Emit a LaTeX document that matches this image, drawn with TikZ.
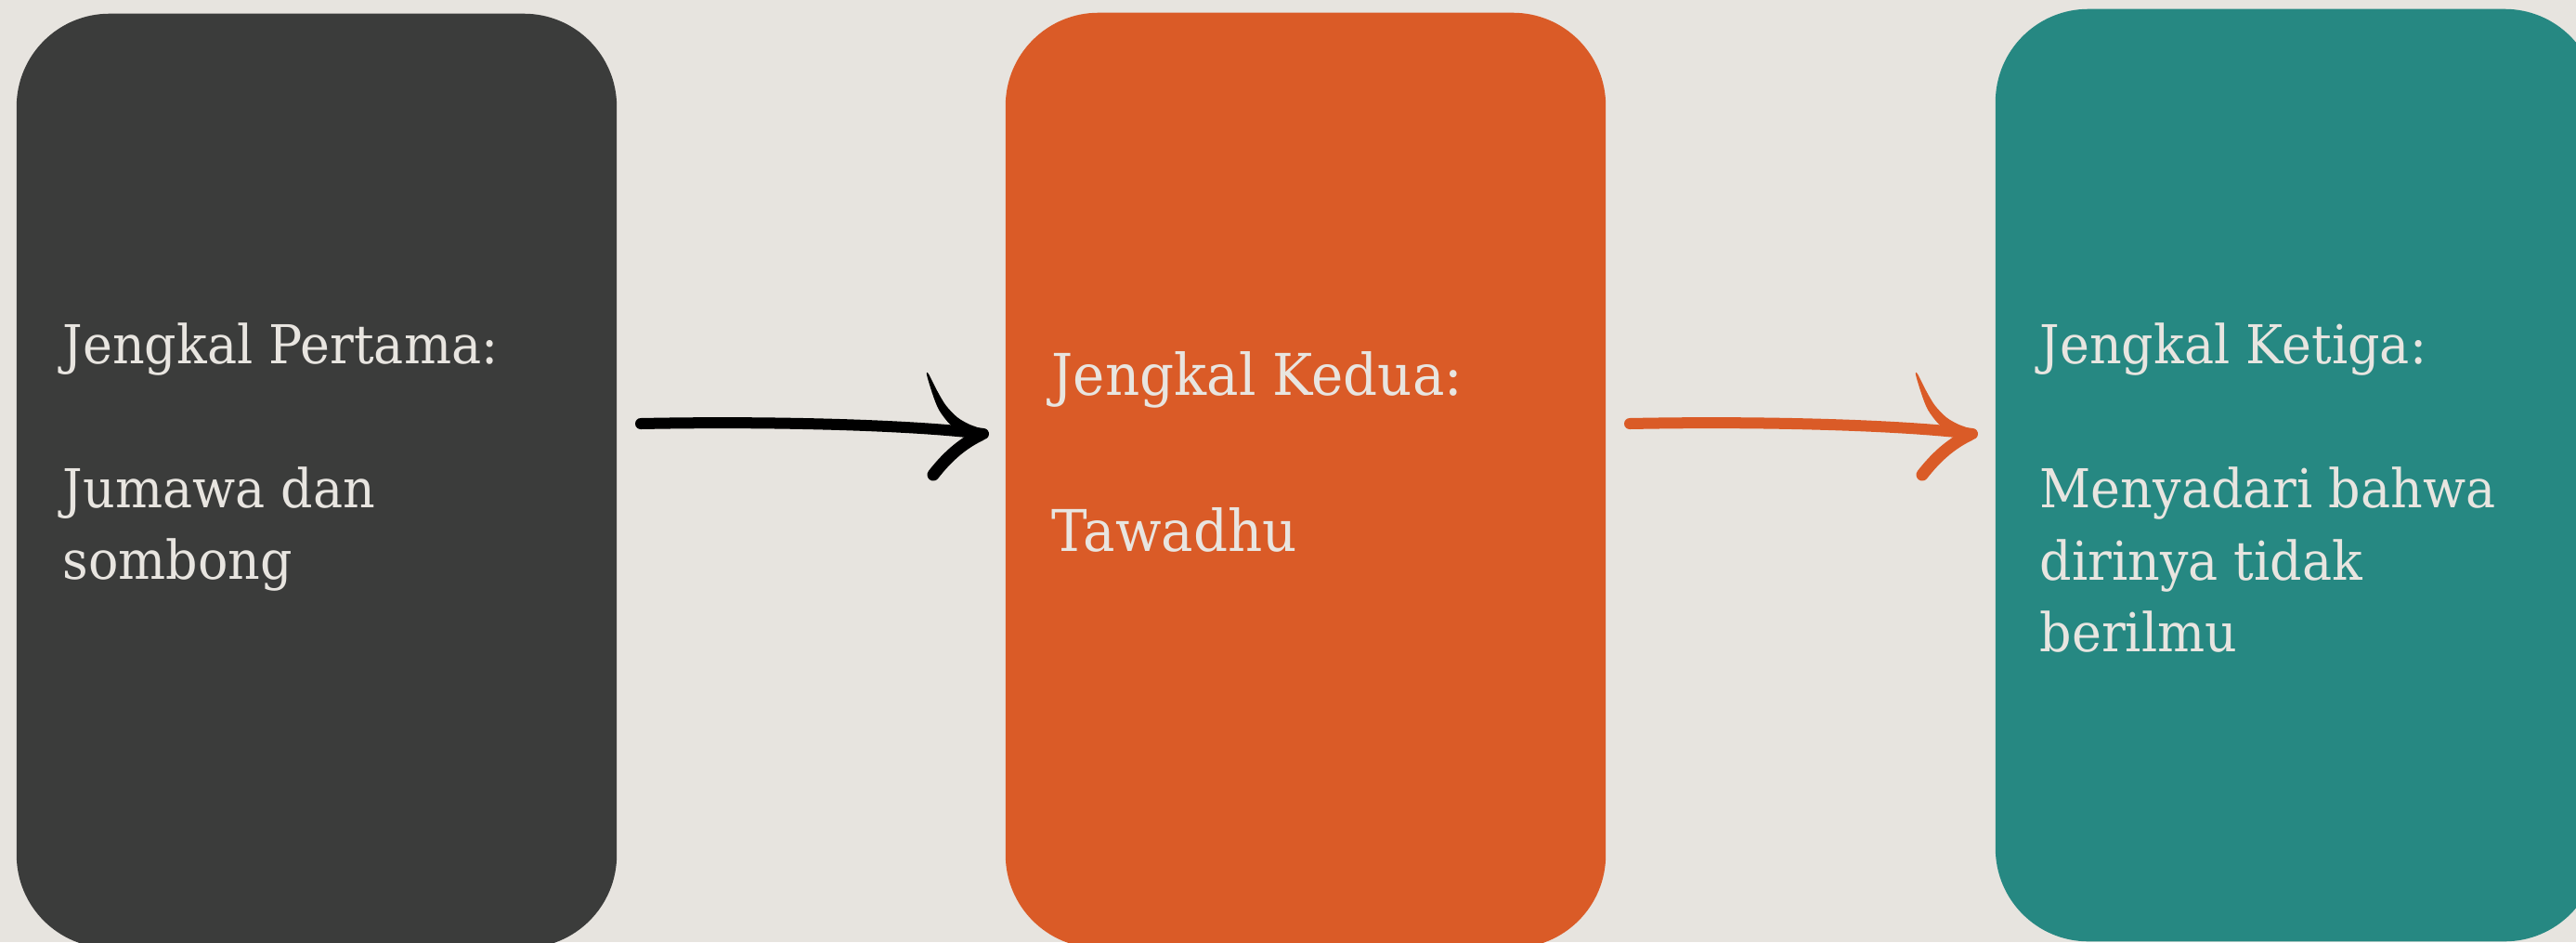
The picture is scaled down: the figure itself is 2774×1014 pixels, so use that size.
\documentclass[tikz,border=0pt]{standalone}
\usepackage{fontspec}
\setmainfont[FakeStretch=0.935]{DejaVu Serif}
\definecolor{bgc}{HTML}{E7E4DF}
\definecolor{darkc}{HTML}{3B3C3B}
\definecolor{orangec}{HTML}{DA5B27}
\definecolor{tealc}{HTML}{268882}
\definecolor{txtc}{HTML}{E8E5E0}
\newcommand{\brusharrow}[3]{%
  \draw[#3, line width=0.12cm, line cap=round] (#1) .. controls +(150,-3) and +(-70,-9) .. (#2);
  \begin{scope}[shift={(#2)}]
    \fill[#3] plot[smooth cycle] coordinates {(-59,-64.4) (-49.3,-45.4) (-40.3,-30.5) (-28.3,-18) (-15.5,-10.4) (-0.5,-4.75) (4,0) (-3.5,4.75) (-20.5,0.4) (-35.7,-10) (-47.7,-25.5) (-54.7,-42.6) (-61,-63.6)};
    \draw[#3, line width=0.13cm, line cap=round] (-54,44) .. controls (-40,26) and (-24,11) .. (-3,1);
  \end{scope}}
\begin{document}
\begin{tikzpicture}[x=0.01cm, y=-0.01cm,
  card/.style={rounded corners=1cm, minimum width=6.46cm, inner sep=0, draw=none},
  lbl/.style={anchor=base west, inner sep=0, text=txtc},
  small/.style={font=\fontsize{16.4}{20}\selectfont},
  big/.style={font=\fontsize{17.6}{21}\selectfont}]
\useasboundingbox (0,0) rectangle (2774,1014);
\fill[bgc] (0,0) rectangle (2774,1014);
\clip (0,0) rectangle (2774,1014);
\node[card, fill=darkc, minimum height=10.05cm] (b1) at (341,517.5) {};
\node[card, fill=orangec, minimum height=10.06cm] (b2) at (1406,517) {};
\node[card, fill=tealc, minimum width=6.48cm, minimum height=10.03cm] (b3) at (2473,511.5) {};
\node[lbl, small] (t1) at (67,391) {\vtop{\baselineskip=0.775cm \hbox{Jengkal Pertama:}\hbox{}\hbox{Jumawa dan}\hbox{sombong}}};
\node[lbl, big] (t2) at (1132,425) {\vtop{\baselineskip=0.84cm \hbox{Jengkal Kedua:}\hbox{}\hbox{Tawadhu}}};
\node[lbl, small] (t3) at (2196,391) {\vtop{\baselineskip=0.777cm \hbox{Jengkal Ketiga:}\hbox{}\hbox{Menyadari bahwa}\hbox{dirinya tidak}\hbox{berilmu}}};
\coordinate (s1) at (690,456);
\coordinate (e1) at (1059,467);
\coordinate (s2) at (1755,456);
\coordinate (e2) at (2124,467);
\brusharrow{s1}{e1}{black}
\brusharrow{s2}{e2}{orangec}
\end{tikzpicture}
\end{document}
